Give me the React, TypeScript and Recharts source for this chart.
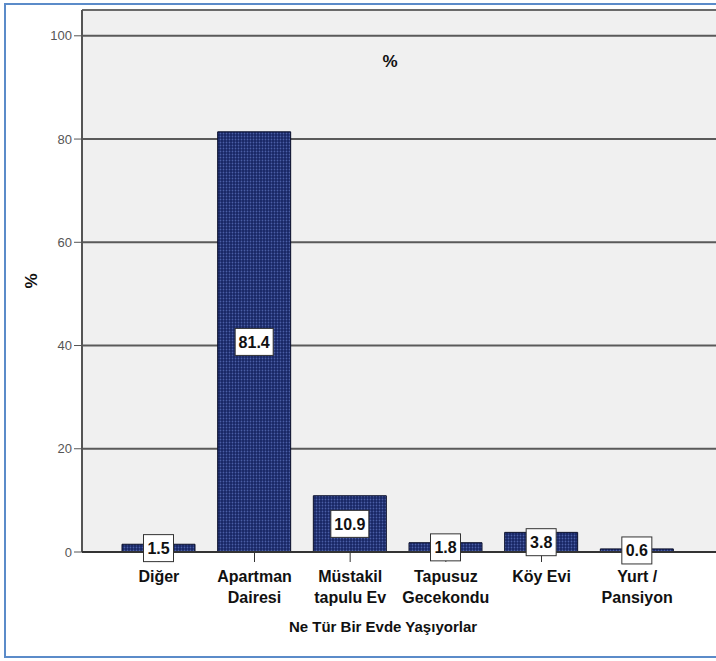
import { BarChart, Bar, XAxis, YAxis, CartesianGrid, ReferenceLine, LabelList } from 'recharts'

// categories and percentages
const kategoriler = ['Diğer', 'Apartman Dairesi', 'Müstakil tapulu Ev', 'Tapusuz Gecekondu', 'Köy Evi', 'Yurt / Pansiyon']
const satirlar = [['Diğer'], ['Apartman', 'Dairesi'], ['Müstakil', 'tapulu Ev'], ['Tapusuz', 'Gecekondu'], ['Köy Evi'], ['Yurt /', 'Pansiyon']]
const yuzdeler = [1.5, 81.4, 10.9, 1.8, 3.8, 0.6]
const yTicks = [0, 20, 40, 60, 80, 100]

const data = kategoriler.map((k, i) => ({ name: k, value: yuzdeler[i], idx: i }))

const FONT = '"Liberation Sans Narrow", "Liberation Sans", Arial, sans-serif'

function XTick({ x, y, payload }: any) {
  const lines = satirlar[payload.index] || [payload.value]
  return (
    <text x={x} y={y + 18} textAnchor="middle" fontFamily={FONT} fontWeight="bold" fontSize={16} fill="#111">
      {lines.map((l, i) => (
        <tspan key={i} x={x} dy={i === 0 ? 0 : 21}>{l}</tspan>
      ))}
    </text>
  )
}

function KutuEtiket({ x, y, width, height, value }: any) {
  const cx = x + width / 2
  const cy = y + height / 2
  const txt = Number(value).toFixed(1)
  const w = txt.length > 3 ? 38 : 30
  const h = 27
  return (
    <g>
      <rect x={cx - w / 2} y={cy - h / 2} width={w} height={h} fill="#fff" stroke="#333" strokeWidth={1} />
      <text x={cx} y={cy + 6} textAnchor="middle" fontFamily={FONT} fontWeight="bold" fontSize={16} fill="#111">
        {txt}
      </text>
    </g>
  )
}

export default function App() {
  return (
    <div style={{ position: 'absolute', left: 0, top: 0, width: 716, height: 661, overflow: 'hidden', background: '#fff' }}>
      <svg width={0} height={0} style={{ position: 'absolute' }}>
        <defs>
          <pattern id="noktali" width={3} height={3} patternUnits="userSpaceOnUse">
            <rect width={3} height={3} fill="#172563" />
            <circle cx={1.5} cy={1.5} r={0.9} fill="#4a5fa6" />
          </pattern>
        </defs>
      </svg>
      {/* mavi çerçeve */}
      <div style={{ position: 'absolute', left: 4, top: 3, width: 730, height: 651, border: '2px solid #5b8bc9' }} />
      <div style={{ position: 'absolute', left: 0, top: 0 }}>
        <BarChart width={716} height={661} data={data} margin={{ top: 10, right: 0, left: 0, bottom: 49 }}>
          <CartesianGrid vertical={false} stroke="#5a5a5a" strokeWidth={2} fill="#f0f0f0" />
          <ReferenceLine y={105} stroke="#6a6a6a" strokeWidth={2} />
          <YAxis
            width={82}
            domain={[0, 105]}
            ticks={yTicks}
            tickSize={8}
            tick={{ fontSize: 13, fill: '#555', fontFamily: 'Arial, sans-serif' }}
            axisLine={{ stroke: '#555', strokeWidth: 2 }}
            tickLine={{ stroke: '#555' }}
          />
          <XAxis
            dataKey="name"
            height={60}
            padding={{ left: 29, right: 31 }}
            tickSize={10}
            interval={0}
            tick={<XTick />}
            axisLine={{ stroke: '#333', strokeWidth: 2 }}
            tickLine={{ stroke: '#333' }}
          />
          <Bar dataKey="value" barSize={73} fill="url(#noktali)" stroke="#0a0f2a" strokeWidth={1} isAnimationActive={false}>
            <LabelList dataKey="value" content={<KutuEtiket />} />
          </Bar>
        </BarChart>
      </div>
      <div style={{ position: 'absolute', left: 0, top: 52, width: 780, textAlign: 'center', fontFamily: FONT, fontWeight: 'bold', fontSize: 17, color: '#111' }}>%</div>
      <div style={{ position: 'absolute', left: 24, top: 271, transform: 'rotate(-90deg)', fontFamily: FONT, fontWeight: 'bold', fontSize: 17, color: '#111' }}>%</div>
      <div style={{ position: 'absolute', left: 0, top: 618, width: 766, textAlign: 'center', fontFamily: FONT, fontWeight: 'bold', fontSize: 15, color: '#111' }}>
        Ne Tür Bir Evde Yaşıyorlar
      </div>
    </div>
  )
}
